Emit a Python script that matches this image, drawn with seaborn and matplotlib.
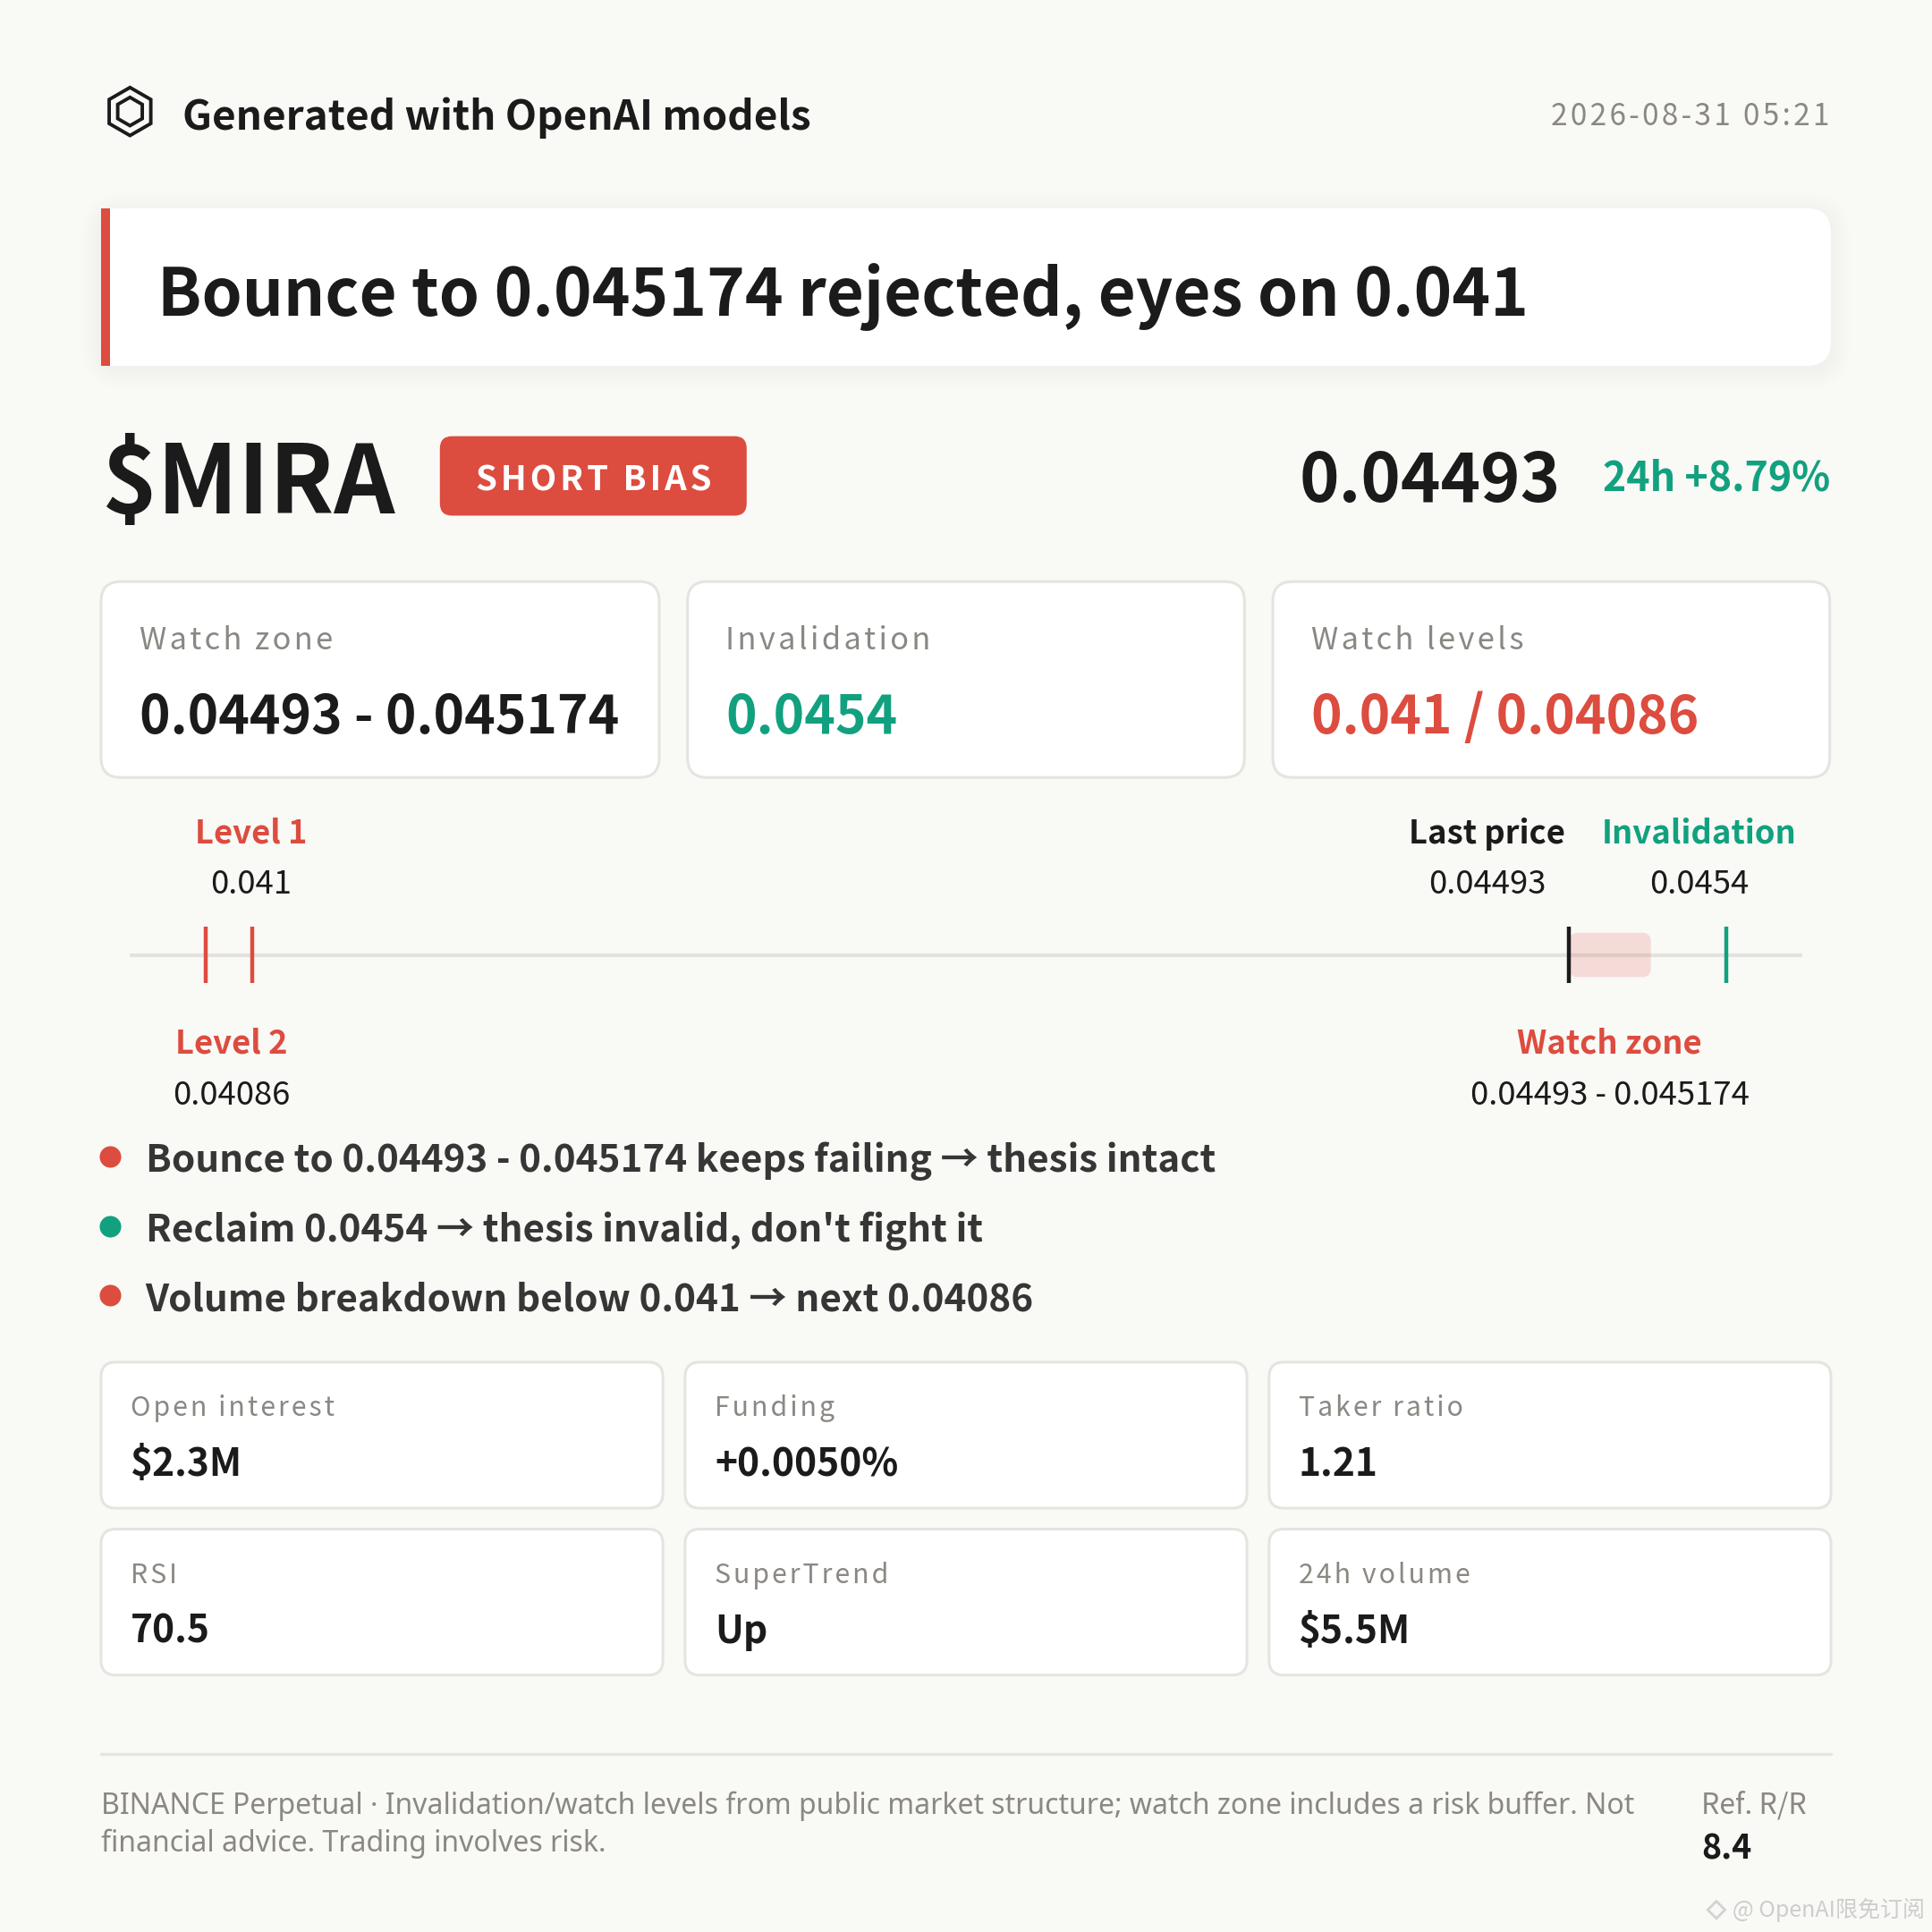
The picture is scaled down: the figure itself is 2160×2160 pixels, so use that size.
#!/usr/bin/env python3

import matplotlib
matplotlib.use("Agg")
import matplotlib.pyplot as plt
from matplotlib.patches import FancyBboxPatch, Rectangle, RegularPolygon
import seaborn as sns

# --- data -------------------------------------------------------------------
ticker = "$MIRA"
bias = "SHORT BIAS"
headline = "Bounce to 0.045174 rejected, eyes on 0.041"
generated_by = "Generated with OpenAI models"
timestamp = "2026-08-31 05:21"
last_price = 0.04493
change_24h = "24h +8.79%"

card_labels = ["Watch zone", "Invalidation", "Watch levels"]
card_values = ["0.04493 - 0.045174", "0.0454", "0.041 / 0.04086"]

level_names = ["Level 2", "Level 1", "Last price", "Invalidation"]
level_values = [0.04086, 0.041, 0.04493, 0.0454]
level_text = ["0.04086", "0.041", "0.04493", "0.0454"]
zone_low, zone_high = 0.04493, 0.045174
zone_text = "0.04493 - 0.045174"

bullets = [
    "Bounce to 0.04493 - 0.045174 keeps failing \u2192 thesis intact",
    "Reclaim 0.0454 \u2192 thesis invalid, don't fight it",
    "Volume breakdown below 0.041 \u2192 next 0.04086",
]
bullet_kind = ["bear", "bull", "bear"]

stat_labels = ["Open interest", "Funding", "Taker ratio", "RSI", "SuperTrend", "24h volume"]
stat_values = ["$2.3M", "+0.0050%", "1.21", "70.5", "Up", "$5.5M"]

footer_lines = [
    "BINANCE Perpetual \u00b7 Invalidation/watch levels from public market structure; watch zone includes a risk buffer. Not",
    "financial advice. Trading involves risk.",
]
rr_label = "Ref. R/R"
rr_value = "8.4"
watermark = "@ OpenAI\u9650\u514d\u8ba2\u9605"

# --- style ------------------------------------------------------------------
BG = "#f9f9f6"
INK = "#1b1b1b"
INK2 = "#363636"
GRAY = "#8b8883"
RED = "#dc4c3f"
GREEN = "#12a17f"
BORDER = "#e5e4df"
TRACK = "#e3e2de"
LATIN = ["Noto Sans", "DejaVu Sans"]

sns.set_theme(style="white")
plt.rcParams["font.family"] = ["Noto Sans CJK SC", "DejaVu Sans"]

W = H = 1568  # layout units (reference pixels)

fig = plt.figure(figsize=(10.8, 10.8), dpi=200, facecolor=BG)
base = fig.add_axes([0, 0, 1, 1])
base.set_xlim(0, W)
base.set_ylim(H, 0)
base.axis("off")
base.set_facecolor(BG)


def txt(x, y, s, size, color=INK, weight="normal", ha="left", **kw):
    base.text(x, y, s, fontsize=size, color=color, fontweight=weight,
              ha=ha, va="baseline", **kw)


def spaced(s, n=1):
    return ("\u200a" * n).join(s)


def card(x0, y0, x1, y1, r, edge=BORDER, lw=1.0, face="white"):
    base.add_patch(FancyBboxPatch((x0, y0), x1 - x0, y1 - y0,
                                  boxstyle=f"round,pad=0,rounding_size={r}",
                                  facecolor=face, edgecolor=edge, linewidth=lw))


# header
base.add_patch(RegularPolygon((105.5, 90.5), 6, radius=19.5, fill=False,
                              edgecolor=INK, linewidth=1.4))
base.add_patch(RegularPolygon((105.5, 90.5), 6, radius=11.5, fill=False,
                              edgecolor=INK, linewidth=1.4))
txt(148, 105, generated_by, 16.5, weight="bold")
txt(1485, 101.5, spaced(timestamp), 12.0, color=GRAY, ha="right")

# headline card with soft shadow
for i in range(8):
    g = 2 + i * 2
    base.add_patch(FancyBboxPatch((82 - g, 172 - g), 1404 + 2 * g, 128 + 2 * g,
                                  boxstyle=f"round,pad=0,rounding_size={20 + g}",
                                  facecolor="#000000", edgecolor="none", alpha=0.004))
card(82, 169, 1486, 297, 20, edge="none", lw=0)
base.add_patch(Rectangle((82, 169), 40, 128, facecolor="white", edgecolor="none"))
base.add_patch(Rectangle((82, 169), 7, 128, facecolor=RED, edgecolor="none"))
txt(128, 256, headline, 26.1, weight="bold")

# ticker line
txt(83, 417, ticker, 38.2, weight="bold")
card(357, 354, 606, 418.5, 10, edge="none", lw=0, face=RED)
txt(481.5, 398, spaced(bias), 13.8, color="white", weight="bold", ha="center")
txt(1485, 398, change_24h, 16.1, color=GREEN, weight="bold", ha="right")
txt(1267, 407.5, f"{last_price:.5f}", 27.2, weight="bold", ha="right")

# level cards
card_x = [(82, 535), (558, 1010), (1033, 1485)]
card_colors = [INK, GREEN, RED]
for (x0, x1), lab, val, c in zip(card_x, card_labels, card_values, card_colors):
    card(x0, 472, x1, 631, 16, lw=1.1)
    txt(x0 + 31, 527, spaced(lab), 12.4, color=GRAY)
    txt(x0 + 31, 595, val, 21.1, color=c, weight="bold")

# price track drawn on real data axis
tx0, tx1, ty0, ty1 = 105, 1463, 750, 800
track = fig.add_axes([tx0 / W, 1 - ty1 / H, (tx1 - tx0) / W, (ty1 - ty0) / H])
lo, hi = min(level_values), max(level_values)
pad = 0.05 * (hi - lo)
track.set_xlim(lo - pad, hi + pad)
track.set_ylim(0, 1)
track.axis("off")
track.axhline(0.5, color=TRACK, linewidth=1.5, zorder=1)
px_x = (hi - lo + 2 * pad) / (tx1 - tx0)
px_y = 1.0 / (ty1 - ty0)
track.add_patch(FancyBboxPatch((zone_low, 0.14), zone_high - zone_low, 0.72,
                               boxstyle=f"round,pad=0,rounding_size={7 * px_x}",
                               mutation_aspect=px_y / px_x,
                               facecolor=RED, alpha=0.17, edgecolor="none", zorder=2))
tick_colors = [RED, RED, INK, GREEN]
track.vlines(level_values, 0.04, 0.96, colors=tick_colors, linewidth=1.6, zorder=3)

# track labels (layout x positions in reference pixels)
label_x = [188, 204, 1207, 1379]
label_row = ["below", "above", "above", "above"]
label_colors = [RED, RED, INK, GREEN]
for name, vt, lx, row, c in zip(level_names, level_text, label_x, label_row, label_colors):
    ny, vy = (684.5, 725) if row == "above" else (855, 896.5)
    txt(lx, ny, name, 13.1, color=c, weight="bold", ha="center")
    txt(lx, vy, vt, 13.1, color=INK, ha="center")
txt(1306.5, 855, "Watch zone", 13.1, color=RED, weight="bold", ha="center")
txt(1306.5, 896.5, zone_text, 13.1, color=INK, ha="center")

# bullets
for i, (b, k) in enumerate(zip(bullets, bullet_kind)):
    yb = 951 + i * 56.5
    base.scatter([89], [yb - 12.5], s=75, color=RED if k == "bear" else GREEN,
                 linewidths=0, zorder=3)
    txt(118, yb, b, 15.2, color=INK2, weight="bold")

# stat cards
stat_x = [(82, 538), (556, 1012), (1030, 1486)]
stat_y = [(1105.5, 1224), (1241, 1359.5)]
for i, (lab, val) in enumerate(zip(stat_labels, stat_values)):
    (x0, x1), (y0, y1) = stat_x[i % 3], stat_y[i // 3]
    card(x0, y0, x1, y1, 12, lw=1.1)
    txt(x0 + 24, y0 + 44, spaced(lab), 10.9, color=GRAY)
    txt(x0 + 24, y0 + 92.5, val, 15.3, weight="bold")

# footer
base.plot([82, 1486], [1423.5, 1423.5], color=BORDER, linewidth=1.2)
txt(82, 1472, footer_lines[0], 11.5, color=GRAY, family=LATIN)
txt(82, 1503, footer_lines[1], 11.5, color=GRAY, family=LATIN)
txt(1381, 1472, rr_label, 11.5, color=GRAY)
txt(1381, 1508.5, rr_value, 13.5, weight="bold")
base.add_patch(RegularPolygon((1393, 1550), 4, radius=7, fill=False,
                              edgecolor="#d2d2d2", linewidth=1.0))
txt(1562, 1556, watermark, 9, color="#cdcdcd", ha="right")

fig.savefig("out.png", dpi=200, facecolor=BG)
